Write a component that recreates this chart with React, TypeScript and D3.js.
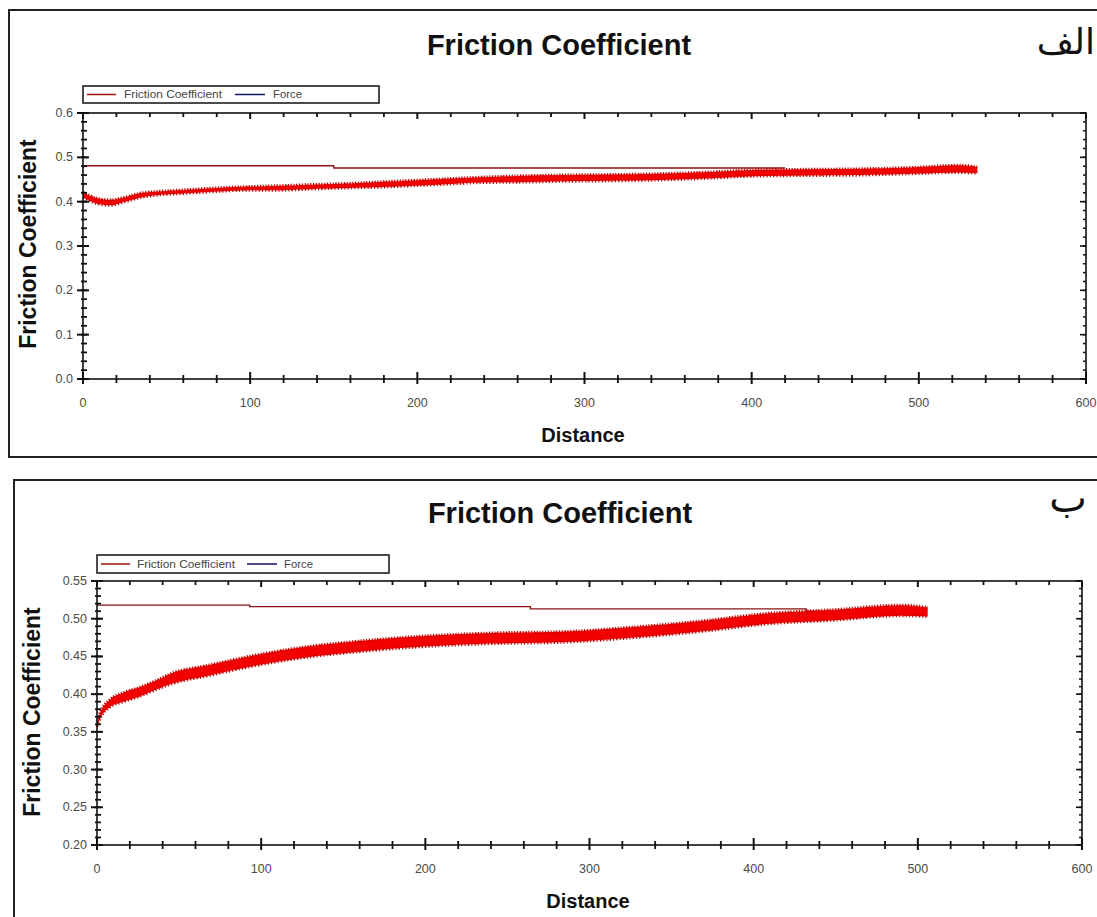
import React from "react";
import * as d3 from "d3";

// ---------- Data ----------
const xTicks = [0, 100, 200, 300, 400, 500, 600];

// Panel الف
const aDist = [0, 4, 8, 16, 25, 34, 45, 58, 80, 100, 118, 140, 158, 180, 197, 220, 237, 260, 287, 315, 345, 375, 405, 435, 465, 495, 524, 535];
const aMu = [0.415, 0.408, 0.402, 0.398, 0.405, 0.414, 0.419, 0.422, 0.427, 0.43, 0.431, 0.434, 0.436, 0.439, 0.442, 0.446, 0.449, 0.451, 0.453, 0.454, 0.456, 0.46, 0.465, 0.466, 0.467, 0.47, 0.474, 0.471];
const aSpread = [0.006, 0.006, 0.006, 0.006, 0.005, 0.005, 0.004, 0.004, 0.004, 0.004, 0.005, 0.005, 0.005, 0.006, 0.006, 0.006, 0.006, 0.007, 0.007, 0.007, 0.007, 0.007, 0.007, 0.007, 0.007, 0.007, 0.008, 0.007];
const aRefDist = [0, 150, 150, 420];
const aRefMu = [0.481, 0.481, 0.476, 0.476];
const aYTicks = [0.0, 0.1, 0.2, 0.3, 0.4, 0.5, 0.6];
const aYLabels = ["0.0", "0.1", "0.2", "0.3", "0.4", "0.5", "0.6"];

// Panel ب
const bDist = [0, 2, 8, 16, 26, 36, 46, 67, 97, 128, 158, 199, 240, 286, 327, 368, 408, 449, 490, 506];
const bMu = [0.36, 0.372, 0.388, 0.396, 0.403, 0.412, 0.421, 0.431, 0.445, 0.456, 0.463, 0.47, 0.474, 0.476, 0.482, 0.49, 0.5, 0.505, 0.511, 0.509];
const bSpread = [0.003, 0.004, 0.005, 0.006, 0.006, 0.006, 0.007, 0.007, 0.007, 0.007, 0.007, 0.007, 0.007, 0.007, 0.007, 0.007, 0.007, 0.007, 0.007, 0.006];
const bRefDist = [0, 93, 93, 264, 264, 432, 432, 445];
const bRefMu = [0.518, 0.518, 0.516, 0.516, 0.513, 0.513, 0.51, 0.51];
const bYTicks = [0.2, 0.25, 0.3, 0.35, 0.4, 0.45, 0.5, 0.55];
const bYLabels = ["0.20", "0.25", "0.30", "0.35", "0.40", "0.45", "0.50", "0.55"];

type PanelProps = {
  frame: { x: number; y: number; w: number; h: number };
  plot: { l: number; r: number; t: number; b: number };
  yDomain: [number, number];
  yTicks: number[];
  yLabels: string[];
  yMinorStep: number;
  dist: number[];
  mu: number[];
  spread: number[];
  refDist: number[];
  refMu: number[];
  legend: { x: number; y: number; w: number; h: number; t1: number; l2: number; t2: number };
  title: { x: number; y: number };
  tag: { text: string; x: number; y: number; size: number };
  xLabel: { x: number; y: number };
  yLabel: { x: number; y: number };
  xTickY: number;
};

function Panel(p: PanelProps) {
  const x = d3.scaleLinear().domain([0, 600]).range([p.plot.l, p.plot.r]);
  const y = d3.scaleLinear().domain(p.yDomain).range([p.plot.b, p.plot.t]);
  const idx = d3.range(p.dist.length);
  const area = d3
    .area<number>()
    .x((i) => x(p.dist[i]))
    .y0((i) => y(p.mu[i] - p.spread[i]))
    .y1((i) => y(p.mu[i] + p.spread[i]))
    .curve(d3.curveMonotoneX);
  const upper = d3
    .line<number>()
    .x((i) => x(p.dist[i]))
    .y((i) => y(p.mu[i] + p.spread[i]))
    .curve(d3.curveMonotoneX);
  const lower = d3
    .line<number>()
    .x((i) => x(p.dist[i]))
    .y((i) => y(p.mu[i] - p.spread[i]))
    .curve(d3.curveMonotoneX);
  const ref = d3
    .line<number>()
    .x((i) => x(p.refDist[i]))
    .y((i) => y(p.refMu[i]));

  const xMinor = d3.range(0, 601, 20).filter((v) => v % 100 !== 0);
  const [y0, y1] = p.yDomain;
  const nMinor = Math.round((y1 - y0) / p.yMinorStep);
  const yMinor = d3.range(0, nMinor + 1).map((k) => y0 + k * p.yMinorStep);

  const tickLab = { fontFamily: "Liberation Sans, Arial, sans-serif", fontSize: 12.5, fill: "#4a4a4a" } as const;
  const legY = p.legend.y + p.legend.h / 2;

  return (
    <g>
      <rect x={p.frame.x} y={p.frame.y} width={p.frame.w} height={p.frame.h} fill="none" stroke="#222" strokeWidth={2} />
      <text x={p.title.x} y={p.title.y} textAnchor="middle" fontFamily="Liberation Sans, Arial, sans-serif" fontWeight="bold" fontSize={29} fill="#111">
        Friction Coefficient
      </text>
      <text x={p.tag.x} y={p.tag.y} textAnchor="end" fontFamily="DejaVu Sans, sans-serif" fontSize={p.tag.size} fill="#111">
        {p.tag.text}
      </text>

      {/* legend */}
      <rect x={p.legend.x} y={p.legend.y} width={p.legend.w} height={p.legend.h} fill="#fff" stroke="#111" strokeWidth={1.5} />
      <line x1={p.legend.x + 4} x2={p.legend.x + 33} y1={legY} y2={legY} stroke="#a01010" strokeWidth={1.5} />
      <text x={p.legend.t1} y={legY + 3.5} textLength={98} lengthAdjust="spacingAndGlyphs" fontFamily="Liberation Sans, Arial, sans-serif" fontSize={10.5} fill="#444">
        Friction Coefficient
      </text>
      <line x1={p.legend.l2} x2={p.legend.l2 + 30} y1={legY} y2={legY} stroke="#101060" strokeWidth={1.5} />
      <text x={p.legend.t2} y={legY + 3.5} textLength={29} lengthAdjust="spacingAndGlyphs" fontFamily="Liberation Sans, Arial, sans-serif" fontSize={10.5} fill="#444">
        Force
      </text>

      {/* data */}
      <path d={ref(d3.range(p.refDist.length)) || ""} fill="none" stroke="#8b1515" strokeWidth={1.4} />
      <path d={area(idx) || ""} fill="#f20000" stroke="none" />
      <path d={upper(idx) || ""} fill="none" stroke="#d00000" strokeWidth={3} strokeDasharray="1.2 1.6" />
      <path d={lower(idx) || ""} fill="none" stroke="#d00000" strokeWidth={3} strokeDasharray="1.2 2.1" />
      <path d={upper(idx) || ""} fill="none" stroke="#7a0000" strokeWidth={1.2} strokeDasharray="0.8 9" opacity={0.8} />
      <path d={lower(idx) || ""} fill="none" stroke="#7a0000" strokeWidth={1.2} strokeDasharray="0.8 7" opacity={0.8} />

      {/* plot frame */}
      <rect x={p.plot.l} y={p.plot.t} width={p.plot.r - p.plot.l} height={p.plot.b - p.plot.t} fill="none" stroke="#111" strokeWidth={1.6} />

      {/* bottom / top ticks */}
      {xTicks.map((v) => (
        <g key={"xt" + v}>
          <line x1={x(v)} x2={x(v)} y1={p.plot.b - 7} y2={p.plot.b + 5} stroke="#111" strokeWidth={2} />
          <line x1={x(v)} x2={x(v)} y1={p.plot.t} y2={p.plot.t + 6} stroke="#111" strokeWidth={2} />
          <text x={x(v)} y={p.xTickY} textAnchor="middle" {...tickLab}>
            {v}
          </text>
        </g>
      ))}
      {xMinor.map((v) => (
        <g key={"xm" + v}>
          <line x1={x(v)} x2={x(v)} y1={p.plot.b - 4} y2={p.plot.b + 4} stroke="#111" strokeWidth={1.8} />
          <line x1={x(v)} x2={x(v)} y1={p.plot.t} y2={p.plot.t + 4} stroke="#111" strokeWidth={1.8} />
        </g>
      ))}

      {/* left / right ticks */}
      {p.yTicks.map((v, i) => (
        <g key={"yt" + i}>
          <line x1={p.plot.l - 6} x2={p.plot.l + 6} y1={y(v)} y2={y(v)} stroke="#111" strokeWidth={2} />
          <line x1={p.plot.r - 6} x2={p.plot.r} y1={y(v)} y2={y(v)} stroke="#111" strokeWidth={1.6} />
          <text x={p.plot.l - 10} y={y(v) + 4} textAnchor="end" {...tickLab}>
            {p.yLabels[i]}
          </text>
        </g>
      ))}
      {yMinor.map((v, i) => (
        <g key={"ym" + i}>
          <line x1={p.plot.l - 2} x2={p.plot.l + 4} y1={y(v)} y2={y(v)} stroke="#111" strokeWidth={1.8} />
          <line x1={p.plot.r - 3} x2={p.plot.r} y1={y(v)} y2={y(v)} stroke="#111" strokeWidth={1.5} />
        </g>
      ))}

      <text x={p.xLabel.x} y={p.xLabel.y} textAnchor="middle" fontFamily="Liberation Sans, Arial, sans-serif" fontWeight="bold" fontSize={20} fill="#111">
        Distance
      </text>
      <text
        transform={`translate(${p.yLabel.x},${p.yLabel.y}) rotate(-90)`}
        textAnchor="middle"
        fontFamily="Liberation Sans, Arial, sans-serif"
        fontWeight="bold"
        fontSize={23}
        fill="#111"
      >
        Friction Coefficient
      </text>
    </g>
  );
}

export default function App() {
  return (
    <svg width={1097} height={917} style={{ position: "absolute", left: 0, top: 0, background: "#fff" }}>
      <rect x={0} y={0} width={1097} height={917} fill="#fff" />
      <Panel
        frame={{ x: 9, y: 10, w: 1100, h: 447 }}
        plot={{ l: 83, r: 1086, t: 113, b: 379 }}
        yDomain={[0, 0.6]}
        yTicks={aYTicks}
        yLabels={aYLabels}
        yMinorStep={0.02}
        dist={aDist}
        mu={aMu}
        spread={aSpread}
        refDist={aRefDist}
        refMu={aRefMu}
        legend={{ x: 83, y: 86, w: 296, h: 17, t1: 124, l2: 235, t2: 273 }}
        title={{ x: 559, y: 55 }}
        tag={{ text: "الف", x: 1095, y: 54, size: 36 }}
        xLabel={{ x: 583, y: 442 }}
        yLabel={{ x: 36, y: 244 }}
        xTickY={407}
      />
      <Panel
        frame={{ x: 14, y: 480, w: 1100, h: 460 }}
        plot={{ l: 97, r: 1082, t: 581, b: 845 }}
        yDomain={[0.2, 0.55]}
        yTicks={bYTicks}
        yLabels={bYLabels}
        yMinorStep={0.01}
        dist={bDist}
        mu={bMu}
        spread={bSpread}
        refDist={bRefDist}
        refMu={bRefMu}
        legend={{ x: 97, y: 555, w: 292, h: 18, t1: 137, l2: 247, t2: 284 }}
        title={{ x: 560, y: 523 }}
        tag={{ text: "ب", x: 1087, y: 512, size: 40 }}
        xLabel={{ x: 588, y: 908 }}
        yLabel={{ x: 40, y: 712 }}
        xTickY={873}
      />
    </svg>
  );
}
